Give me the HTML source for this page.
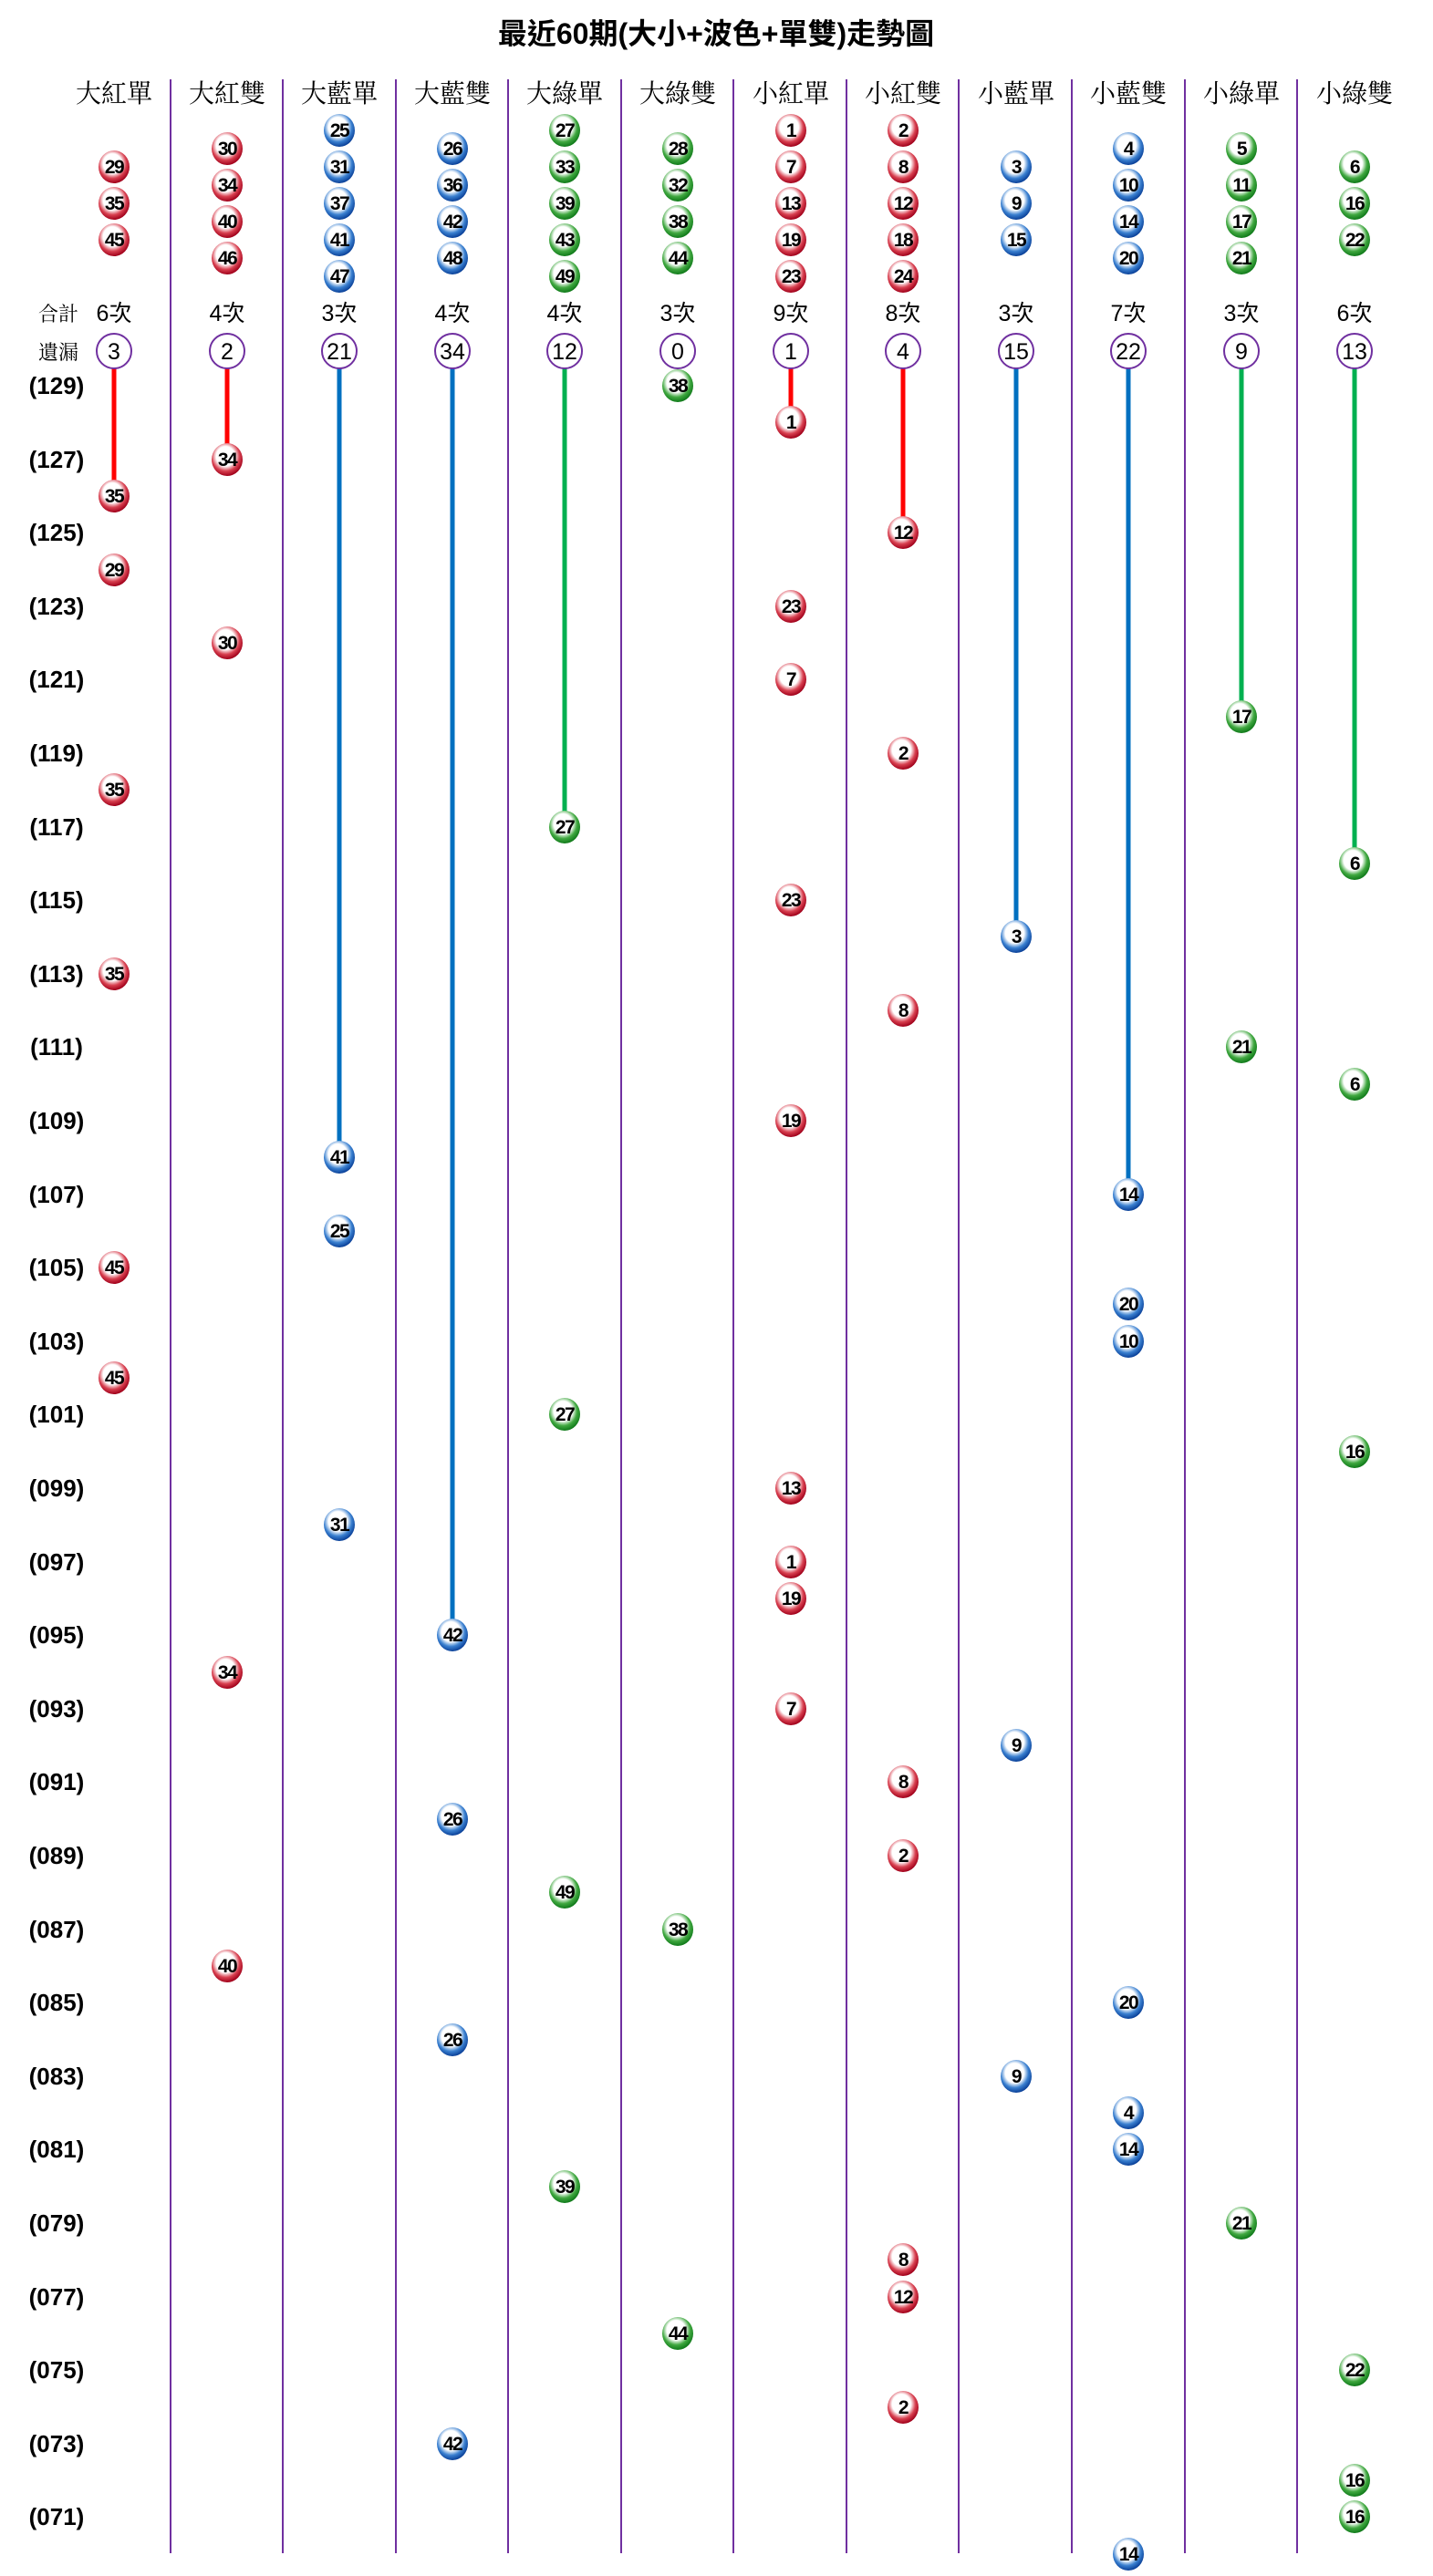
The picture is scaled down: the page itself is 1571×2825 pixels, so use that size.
<!DOCTYPE html>
<html><head><meta charset="utf-8"><style>
html,body{margin:0;padding:0;background:#fff;}
svg{display:block;}
.t{font-family:"Liberation Sans","Noto Sans CJK TC",sans-serif;font-weight:bold;font-size:32px;}
.h{font-family:"Liberation Serif","Noto Serif CJK SC",serif;font-size:28px;}
.s{font-family:"Liberation Serif","Noto Serif CJK SC",serif;font-size:22px;}
.c{font-family:"Liberation Sans","Noto Sans CJK TC",sans-serif;font-size:25px;}
.p{font-family:"Liberation Sans",sans-serif;font-weight:bold;font-size:26px;}
.m{font-family:"Liberation Sans",sans-serif;font-size:25px;}
.b text{font-family:"Liberation Sans",sans-serif;font-weight:bold;font-size:21px;text-anchor:middle;letter-spacing:-1.5px;}
text{text-anchor:middle;}
</style></head><body>
<svg width="1571" height="2825" xmlns="http://www.w3.org/2000/svg">
<defs>
<radialGradient id="R" cx="45%" cy="40%" r="60%"><stop offset="0" stop-color="#fff"/><stop offset="0.5" stop-color="#fff"/><stop offset="0.75" stop-color="#d84050"/><stop offset="1" stop-color="#a0001a"/></radialGradient>
<radialGradient id="B" cx="45%" cy="40%" r="60%"><stop offset="0" stop-color="#fff"/><stop offset="0.5" stop-color="#fff"/><stop offset="0.75" stop-color="#3a80d0"/><stop offset="1" stop-color="#0a4098"/></radialGradient>
<radialGradient id="G" cx="45%" cy="40%" r="60%"><stop offset="0" stop-color="#fff"/><stop offset="0.5" stop-color="#fff"/><stop offset="0.75" stop-color="#40a840"/><stop offset="1" stop-color="#107a1a"/></radialGradient>
<style>.b ellipse.r{fill:url(#R)}.b ellipse.u{fill:url(#B)}.b ellipse.g{fill:url(#G)}</style>
</defs>
<text class="t" x="785" y="48">最近60期(大小+波色+單雙)走勢圖</text>
<g stroke="#7030a0" stroke-width="2">
<line x1="187" y1="87" x2="187" y2="2800"/><line x1="310" y1="87" x2="310" y2="2800"/><line x1="434" y1="87" x2="434" y2="2800"/><line x1="557" y1="87" x2="557" y2="2800"/><line x1="681" y1="87" x2="681" y2="2800"/><line x1="804" y1="87" x2="804" y2="2800"/><line x1="928" y1="87" x2="928" y2="2800"/><line x1="1051" y1="87" x2="1051" y2="2800"/><line x1="1175" y1="87" x2="1175" y2="2800"/><line x1="1299" y1="87" x2="1299" y2="2800"/><line x1="1422" y1="87" x2="1422" y2="2800"/>
</g>
<g class="h">
<text x="125" y="112">大紅單</text><text x="249" y="112">大紅雙</text><text x="372" y="112">大藍單</text><text x="496" y="112">大藍雙</text><text x="619" y="112">大綠單</text><text x="743" y="112">大綠雙</text><text x="867" y="112">小紅單</text><text x="990" y="112">小紅雙</text><text x="1114" y="112">小藍單</text><text x="1237" y="112">小藍雙</text><text x="1361" y="112">小綠單</text><text x="1485" y="112">小綠雙</text>
</g>
<text class="s" x="64" y="352">合計</text><text class="s" x="64" y="394">遺漏</text>
<g class="c">
<text x="125" y="352">6次</text><text x="249" y="352">4次</text><text x="372" y="352">3次</text><text x="496" y="352">4次</text><text x="619" y="352">4次</text><text x="743" y="352">3次</text><text x="867" y="352">9次</text><text x="990" y="352">8次</text><text x="1114" y="352">3次</text><text x="1237" y="352">7次</text><text x="1361" y="352">3次</text><text x="1485" y="352">6次</text>
</g>
<g stroke-width="5">
<line x1="125" y1="404" x2="125" y2="544" stroke="#f00"/>
<line x1="249" y1="404" x2="249" y2="504" stroke="#f00"/>
<line x1="372" y1="404" x2="372" y2="1269" stroke="#0070c0"/>
<line x1="496" y1="404" x2="496" y2="1793" stroke="#0070c0"/>
<line x1="619" y1="404" x2="619" y2="907" stroke="#00b050"/>
<line x1="867" y1="404" x2="867" y2="463" stroke="#f00"/>
<line x1="990" y1="404" x2="990" y2="584" stroke="#f00"/>
<line x1="1114" y1="404" x2="1114" y2="1027" stroke="#0070c0"/>
<line x1="1237" y1="404" x2="1237" y2="1310" stroke="#0070c0"/>
<line x1="1361" y1="404" x2="1361" y2="786" stroke="#00b050"/>
<line x1="1485" y1="404" x2="1485" y2="947" stroke="#00b050"/>
</g>
<g fill="#fff" stroke="#7030a0" stroke-width="2">
<circle cx="125" cy="385" r="19"/><circle cx="249" cy="385" r="19"/><circle cx="372" cy="385" r="19"/><circle cx="496" cy="385" r="19"/><circle cx="619" cy="385" r="19"/><circle cx="743" cy="385" r="19"/><circle cx="867" cy="385" r="19"/><circle cx="990" cy="385" r="19"/><circle cx="1114" cy="385" r="19"/><circle cx="1237" cy="385" r="19"/><circle cx="1361" cy="385" r="19"/><circle cx="1485" cy="385" r="19"/>
</g>
<g class="m">
<text x="125" y="394">3</text><text x="249" y="394">2</text><text x="372" y="394">21</text><text x="496" y="394">34</text><text x="619" y="394">12</text><text x="743" y="394">0</text><text x="867" y="394">1</text><text x="990" y="394">4</text><text x="1114" y="394">15</text><text x="1237" y="394">22</text><text x="1361" y="394">9</text><text x="1485" y="394">13</text>
</g>
<g class="p">
<text x="62" y="432">(129)</text><text x="62" y="513">(127)</text><text x="62" y="593">(125)</text><text x="62" y="674">(123)</text><text x="62" y="754">(121)</text><text x="62" y="835">(119)</text><text x="62" y="916">(117)</text><text x="62" y="996">(115)</text><text x="62" y="1077">(113)</text><text x="62" y="1157">(111)</text><text x="62" y="1238">(109)</text><text x="62" y="1319">(107)</text><text x="62" y="1399">(105)</text><text x="62" y="1480">(103)</text><text x="62" y="1560">(101)</text><text x="62" y="1641">(099)</text><text x="62" y="1722">(097)</text><text x="62" y="1802">(095)</text><text x="62" y="1883">(093)</text><text x="62" y="1963">(091)</text><text x="62" y="2044">(089)</text><text x="62" y="2125">(087)</text><text x="62" y="2205">(085)</text><text x="62" y="2286">(083)</text><text x="62" y="2366">(081)</text><text x="62" y="2447">(079)</text><text x="62" y="2528">(077)</text><text x="62" y="2608">(075)</text><text x="62" y="2689">(073)</text><text x="62" y="2769">(071)</text>
</g>
<g class="b">
<g transform="translate(125,183)"><ellipse class="r" rx="17" ry="18"/><text y="7">29</text></g>
<g transform="translate(125,223)"><ellipse class="r" rx="17" ry="18"/><text y="7">35</text></g>
<g transform="translate(125,263)"><ellipse class="r" rx="17" ry="18"/><text y="7">45</text></g>
<g transform="translate(249,163)"><ellipse class="r" rx="17" ry="18"/><text y="7">30</text></g>
<g transform="translate(249,203)"><ellipse class="r" rx="17" ry="18"/><text y="7">34</text></g>
<g transform="translate(249,243)"><ellipse class="r" rx="17" ry="18"/><text y="7">40</text></g>
<g transform="translate(249,283)"><ellipse class="r" rx="17" ry="18"/><text y="7">46</text></g>
<g transform="translate(372,143)"><ellipse class="u" rx="17" ry="18"/><text y="7">25</text></g>
<g transform="translate(372,183)"><ellipse class="u" rx="17" ry="18"/><text y="7">31</text></g>
<g transform="translate(372,223)"><ellipse class="u" rx="17" ry="18"/><text y="7">37</text></g>
<g transform="translate(372,263)"><ellipse class="u" rx="17" ry="18"/><text y="7">41</text></g>
<g transform="translate(372,303)"><ellipse class="u" rx="17" ry="18"/><text y="7">47</text></g>
<g transform="translate(496,163)"><ellipse class="u" rx="17" ry="18"/><text y="7">26</text></g>
<g transform="translate(496,203)"><ellipse class="u" rx="17" ry="18"/><text y="7">36</text></g>
<g transform="translate(496,243)"><ellipse class="u" rx="17" ry="18"/><text y="7">42</text></g>
<g transform="translate(496,283)"><ellipse class="u" rx="17" ry="18"/><text y="7">48</text></g>
<g transform="translate(619,143)"><ellipse class="g" rx="17" ry="18"/><text y="7">27</text></g>
<g transform="translate(619,183)"><ellipse class="g" rx="17" ry="18"/><text y="7">33</text></g>
<g transform="translate(619,223)"><ellipse class="g" rx="17" ry="18"/><text y="7">39</text></g>
<g transform="translate(619,263)"><ellipse class="g" rx="17" ry="18"/><text y="7">43</text></g>
<g transform="translate(619,303)"><ellipse class="g" rx="17" ry="18"/><text y="7">49</text></g>
<g transform="translate(743,163)"><ellipse class="g" rx="17" ry="18"/><text y="7">28</text></g>
<g transform="translate(743,203)"><ellipse class="g" rx="17" ry="18"/><text y="7">32</text></g>
<g transform="translate(743,243)"><ellipse class="g" rx="17" ry="18"/><text y="7">38</text></g>
<g transform="translate(743,283)"><ellipse class="g" rx="17" ry="18"/><text y="7">44</text></g>
<g transform="translate(867,143)"><ellipse class="r" rx="17" ry="18"/><text y="7">1</text></g>
<g transform="translate(867,183)"><ellipse class="r" rx="17" ry="18"/><text y="7">7</text></g>
<g transform="translate(867,223)"><ellipse class="r" rx="17" ry="18"/><text y="7">13</text></g>
<g transform="translate(867,263)"><ellipse class="r" rx="17" ry="18"/><text y="7">19</text></g>
<g transform="translate(867,303)"><ellipse class="r" rx="17" ry="18"/><text y="7">23</text></g>
<g transform="translate(990,143)"><ellipse class="r" rx="17" ry="18"/><text y="7">2</text></g>
<g transform="translate(990,183)"><ellipse class="r" rx="17" ry="18"/><text y="7">8</text></g>
<g transform="translate(990,223)"><ellipse class="r" rx="17" ry="18"/><text y="7">12</text></g>
<g transform="translate(990,263)"><ellipse class="r" rx="17" ry="18"/><text y="7">18</text></g>
<g transform="translate(990,303)"><ellipse class="r" rx="17" ry="18"/><text y="7">24</text></g>
<g transform="translate(1114,183)"><ellipse class="u" rx="17" ry="18"/><text y="7">3</text></g>
<g transform="translate(1114,223)"><ellipse class="u" rx="17" ry="18"/><text y="7">9</text></g>
<g transform="translate(1114,263)"><ellipse class="u" rx="17" ry="18"/><text y="7">15</text></g>
<g transform="translate(1237,163)"><ellipse class="u" rx="17" ry="18"/><text y="7">4</text></g>
<g transform="translate(1237,203)"><ellipse class="u" rx="17" ry="18"/><text y="7">10</text></g>
<g transform="translate(1237,243)"><ellipse class="u" rx="17" ry="18"/><text y="7">14</text></g>
<g transform="translate(1237,283)"><ellipse class="u" rx="17" ry="18"/><text y="7">20</text></g>
<g transform="translate(1361,163)"><ellipse class="g" rx="17" ry="18"/><text y="7">5</text></g>
<g transform="translate(1361,203)"><ellipse class="g" rx="17" ry="18"/><text y="7">11</text></g>
<g transform="translate(1361,243)"><ellipse class="g" rx="17" ry="18"/><text y="7">17</text></g>
<g transform="translate(1361,283)"><ellipse class="g" rx="17" ry="18"/><text y="7">21</text></g>
<g transform="translate(1485,183)"><ellipse class="g" rx="17" ry="18"/><text y="7">6</text></g>
<g transform="translate(1485,223)"><ellipse class="g" rx="17" ry="18"/><text y="7">16</text></g>
<g transform="translate(1485,263)"><ellipse class="g" rx="17" ry="18"/><text y="7">22</text></g>
<g transform="translate(125,544)"><ellipse class="r" rx="17" ry="18"/><text y="7">35</text></g>
<g transform="translate(125,625)"><ellipse class="r" rx="17" ry="18"/><text y="7">29</text></g>
<g transform="translate(125,866)"><ellipse class="r" rx="17" ry="18"/><text y="7">35</text></g>
<g transform="translate(125,1068)"><ellipse class="r" rx="17" ry="18"/><text y="7">35</text></g>
<g transform="translate(125,1390)"><ellipse class="r" rx="17" ry="18"/><text y="7">45</text></g>
<g transform="translate(125,1511)"><ellipse class="r" rx="17" ry="18"/><text y="7">45</text></g>
<g transform="translate(249,504)"><ellipse class="r" rx="17" ry="18"/><text y="7">34</text></g>
<g transform="translate(249,705)"><ellipse class="r" rx="17" ry="18"/><text y="7">30</text></g>
<g transform="translate(249,1834)"><ellipse class="r" rx="17" ry="18"/><text y="7">34</text></g>
<g transform="translate(249,2156)"><ellipse class="r" rx="17" ry="18"/><text y="7">40</text></g>
<g transform="translate(372,1269)"><ellipse class="u" rx="17" ry="18"/><text y="7">41</text></g>
<g transform="translate(372,1350)"><ellipse class="u" rx="17" ry="18"/><text y="7">25</text></g>
<g transform="translate(372,1672)"><ellipse class="u" rx="17" ry="18"/><text y="7">31</text></g>
<g transform="translate(496,1793)"><ellipse class="u" rx="17" ry="18"/><text y="7">42</text></g>
<g transform="translate(496,1995)"><ellipse class="u" rx="17" ry="18"/><text y="7">26</text></g>
<g transform="translate(496,2237)"><ellipse class="u" rx="17" ry="18"/><text y="7">26</text></g>
<g transform="translate(496,2680)"><ellipse class="u" rx="17" ry="18"/><text y="7">42</text></g>
<g transform="translate(619,907)"><ellipse class="g" rx="17" ry="18"/><text y="7">27</text></g>
<g transform="translate(619,1551)"><ellipse class="g" rx="17" ry="18"/><text y="7">27</text></g>
<g transform="translate(619,2075)"><ellipse class="g" rx="17" ry="18"/><text y="7">49</text></g>
<g transform="translate(619,2398)"><ellipse class="g" rx="17" ry="18"/><text y="7">39</text></g>
<g transform="translate(743,423)"><ellipse class="g" rx="17" ry="18"/><text y="7">38</text></g>
<g transform="translate(743,2116)"><ellipse class="g" rx="17" ry="18"/><text y="7">38</text></g>
<g transform="translate(743,2559)"><ellipse class="g" rx="17" ry="18"/><text y="7">44</text></g>
<g transform="translate(867,463)"><ellipse class="r" rx="17" ry="18"/><text y="7">1</text></g>
<g transform="translate(867,665)"><ellipse class="r" rx="17" ry="18"/><text y="7">23</text></g>
<g transform="translate(867,745)"><ellipse class="r" rx="17" ry="18"/><text y="7">7</text></g>
<g transform="translate(867,987)"><ellipse class="r" rx="17" ry="18"/><text y="7">23</text></g>
<g transform="translate(867,1229)"><ellipse class="r" rx="17" ry="18"/><text y="7">19</text></g>
<g transform="translate(867,1632)"><ellipse class="r" rx="17" ry="18"/><text y="7">13</text></g>
<g transform="translate(867,1713)"><ellipse class="r" rx="17" ry="18"/><text y="7">1</text></g>
<g transform="translate(867,1753)"><ellipse class="r" rx="17" ry="18"/><text y="7">19</text></g>
<g transform="translate(867,1874)"><ellipse class="r" rx="17" ry="18"/><text y="7">7</text></g>
<g transform="translate(990,584)"><ellipse class="r" rx="17" ry="18"/><text y="7">12</text></g>
<g transform="translate(990,826)"><ellipse class="r" rx="17" ry="18"/><text y="7">2</text></g>
<g transform="translate(990,1108)"><ellipse class="r" rx="17" ry="18"/><text y="7">8</text></g>
<g transform="translate(990,1954)"><ellipse class="r" rx="17" ry="18"/><text y="7">8</text></g>
<g transform="translate(990,2035)"><ellipse class="r" rx="17" ry="18"/><text y="7">2</text></g>
<g transform="translate(990,2478)"><ellipse class="r" rx="17" ry="18"/><text y="7">8</text></g>
<g transform="translate(990,2519)"><ellipse class="r" rx="17" ry="18"/><text y="7">12</text></g>
<g transform="translate(990,2640)"><ellipse class="r" rx="17" ry="18"/><text y="7">2</text></g>
<g transform="translate(1114,1027)"><ellipse class="u" rx="17" ry="18"/><text y="7">3</text></g>
<g transform="translate(1114,1914)"><ellipse class="u" rx="17" ry="18"/><text y="7">9</text></g>
<g transform="translate(1114,2277)"><ellipse class="u" rx="17" ry="18"/><text y="7">9</text></g>
<g transform="translate(1237,1310)"><ellipse class="u" rx="17" ry="18"/><text y="7">14</text></g>
<g transform="translate(1237,1430)"><ellipse class="u" rx="17" ry="18"/><text y="7">20</text></g>
<g transform="translate(1237,1471)"><ellipse class="u" rx="17" ry="18"/><text y="7">10</text></g>
<g transform="translate(1237,2196)"><ellipse class="u" rx="17" ry="18"/><text y="7">20</text></g>
<g transform="translate(1237,2317)"><ellipse class="u" rx="17" ry="18"/><text y="7">4</text></g>
<g transform="translate(1237,2357)"><ellipse class="u" rx="17" ry="18"/><text y="7">14</text></g>
<g transform="translate(1237,2801)"><ellipse class="u" rx="17" ry="18"/><text y="7">14</text></g>
<g transform="translate(1361,786)"><ellipse class="g" rx="17" ry="18"/><text y="7">17</text></g>
<g transform="translate(1361,1148)"><ellipse class="g" rx="17" ry="18"/><text y="7">21</text></g>
<g transform="translate(1361,2438)"><ellipse class="g" rx="17" ry="18"/><text y="7">21</text></g>
<g transform="translate(1485,947)"><ellipse class="g" rx="17" ry="18"/><text y="7">6</text></g>
<g transform="translate(1485,1189)"><ellipse class="g" rx="17" ry="18"/><text y="7">6</text></g>
<g transform="translate(1485,1592)"><ellipse class="g" rx="17" ry="18"/><text y="7">16</text></g>
<g transform="translate(1485,2599)"><ellipse class="g" rx="17" ry="18"/><text y="7">22</text></g>
<g transform="translate(1485,2720)"><ellipse class="g" rx="17" ry="18"/><text y="7">16</text></g>
<g transform="translate(1485,2760)"><ellipse class="g" rx="17" ry="18"/><text y="7">16</text></g>
</g>
</svg>
</body></html>
